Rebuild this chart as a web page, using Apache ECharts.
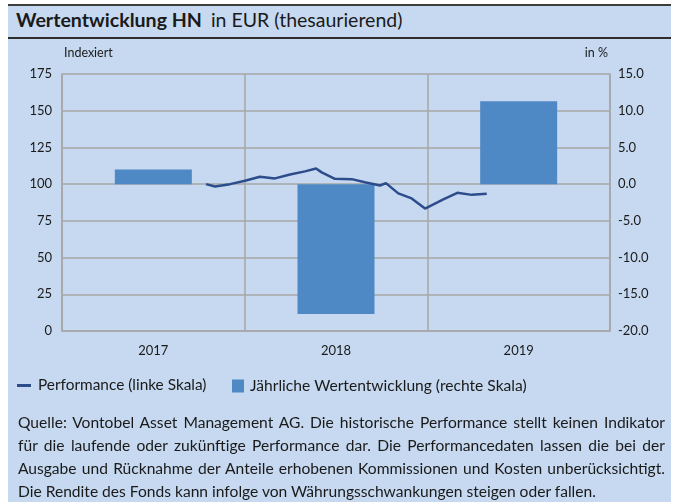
<!DOCTYPE html>
<html>
<head>
<meta charset="utf-8">
<script src="https://cdn.jsdelivr.net/npm/echarts@6/dist/echarts.min.js"></script>
<style>
  html, body { margin: 0; padding: 0; background: #ffffff; }
  #wrap { position: relative; width: 675px; height: 502px; overflow: hidden; font-family: Lato, "Open Sans", sans-serif; color: #1a1a1a; }
  #bg { position: absolute; left: 8px; top: 5px; width: 663px; height: 497px; background: #c6d9f0; }
  #topline { position: absolute; left: 8px; top: 4px; width: 663px; height: 2px; background: #3c3c3c; }
  #sepline { position: absolute; left: 8px; top: 37px; width: 663px; height: 2px; background: #2e2e2e; }
  #title { position: absolute; left: 16px; top: 10px; line-height: 19px; white-space: nowrap; }
  #title b { font-weight: 700; font-size: 19.6px; }
  #title span { font-size: 19.5px; margin-left: 9px; }
  #chart { position: absolute; left: 0; top: 0; width: 675px; height: 502px; }
  #footer { position: absolute; left: 18px; top: 411px; width: 647px; font-size: 15.6px; line-height: 23px; }
  #footer div { text-align: justify; text-align-last: justify; white-space: nowrap; }
  #footer div.last { text-align: left; text-align-last: left; }
</style>
</head>
<body>
<div id="wrap">
  <div id="bg"></div>
  <div id="topline"></div>
  <div id="sepline"></div>
  <div id="title"><b>Wertentwicklung HN</b><span>in EUR (thesaurierend)</span></div>
  <div id="chart"></div>
  <div id="footer">
    <div>Quelle: Vontobel Asset Management AG. Die historische Performance stellt keinen Indikator</div>
    <div>für die laufende oder zukünftige Performance dar. Die Performancedaten lassen die bei der</div>
    <div>Ausgabe und Rücknahme der Anteile erhobenen Kommissionen und Kosten unberücksichtigt.</div>
    <div class="last">Die Rendite des Fonds kann infolge von Währungsschwankungen steigen oder fallen.</div>
  </div>
</div>
<script>
// ---- data ----
var years = ['2017', '2018', '2019'];
var annualReturn = [2.0, -17.7, 11.3];           // % (right scale)
var perfMonths = [9.46, 10.05, 11.04, 12.02, 13.0, 13.99, 14.98, 15.96, 16.69, 17.06, 17.93, 19.03, 19.9, 20.89, 21.28, 22.09, 22.97, 23.85, 25.05, 25.97, 26.92, 27.9];
var perfValues = [100.0, 98.4, 100.0, 102.3, 105.0, 103.9, 106.6, 108.7, 110.7, 108.0, 103.6, 103.4, 101.3, 99.1, 100.7, 93.7, 90.3, 83.4, 89.6, 94.1, 92.7, 93.4];
var leftTicks = [0, 175, 25];
var rightTicks = [-20, 15, 5];
var lineName = 'Performance (linke Skala)';
var barName = 'Jährliche Wertentwicklung (rechte Skala)';

var perfData = perfMonths.map(function (m, i) { return [m, perfValues[i]]; });

var gridColor = '#a6a6a6';
var textColor = '#1a1a1a';
var font = 'Lato, "Open Sans", sans-serif';

var chart = echarts.init(document.getElementById('chart'), null, { renderer: 'canvas' });
chart.setOption({
  backgroundColor: 'transparent',
  animation: false,
  textStyle: { fontFamily: font, color: textColor },
  grid: { left: 62, right: 65, top: 74, bottom: 171, containLabel: false },
  legend: [
    {
      left: 12, top: 373, itemWidth: 14, itemHeight: 3, itemGap: 0,
      icon: 'rect',
      data: [{ name: lineName, icon: 'rect' }],
      textStyle: { fontFamily: font, fontSize: 15.4, color: textColor, padding: [0, 0, 0, 2] }
    },
    {
      left: 227, top: 373, itemWidth: 12, itemHeight: 13, itemGap: 0,
      icon: 'rect',
      data: [{ name: barName, icon: 'rect' }],
      textStyle: { fontFamily: font, fontSize: 15.6, color: textColor, padding: [0, 0, 0, 1] }
    }
  ],
  xAxis: [
    {
      type: 'category', data: years, boundaryGap: true,
      axisLine: { show: true, lineStyle: { color: gridColor, width: 1.5 } },
      axisTick: { show: false },
      axisLabel: { fontFamily: font, fontSize: 13, color: textColor, margin: 13 },
      splitLine: { show: true, lineStyle: { color: gridColor, width: 1.5 } }
    },
    {
      type: 'value', min: 0, max: 36, show: false,
      splitLine: { show: false }
    }
  ],
  yAxis: [
    {
      type: 'value', min: leftTicks[0], max: leftTicks[1], interval: leftTicks[2],
      name: 'Indexiert', nameLocation: 'end', nameGap: 15,
      nameTextStyle: { fontFamily: font, fontSize: 12.5, color: textColor, align: 'left', padding: [0, 0, 0, 2] },
      axisLine: { show: true, lineStyle: { color: gridColor, width: 1.5 } },
      axisTick: { show: false },
      axisLabel: { fontFamily: font, fontSize: 13, color: textColor, margin: 10 },
      splitLine: { show: true, lineStyle: { color: gridColor, width: 1.5 } }
    },
    {
      type: 'value', min: rightTicks[0], max: rightTicks[1], interval: rightTicks[2],
      position: 'right',
      name: 'in %', nameLocation: 'end', nameGap: 15,
      nameTextStyle: { fontFamily: font, fontSize: 12.5, color: textColor, align: 'right', padding: [0, 2, 0, 0] },
      axisLine: { show: true, lineStyle: { color: gridColor, width: 1.5 } },
      axisTick: { show: false },
      axisLabel: { fontFamily: font, fontSize: 13, color: textColor, margin: 8,
        formatter: function (v) { return v.toFixed(1); } },
      splitLine: { show: false }
    }
  ],
  series: [
    {
      name: barName, type: 'bar', xAxisIndex: 0, yAxisIndex: 1,
      data: annualReturn, barWidth: 77,
      itemStyle: { color: '#4f89c5' }
    },
    {
      name: lineName, type: 'line', xAxisIndex: 1, yAxisIndex: 0,
      data: perfData, showSymbol: false, symbol: 'none',
      lineStyle: { color: '#2c4c8c', width: 2.5 },
      itemStyle: { color: '#2c4c8c' }
    }
  ]
});
</script>
</body>
</html>
